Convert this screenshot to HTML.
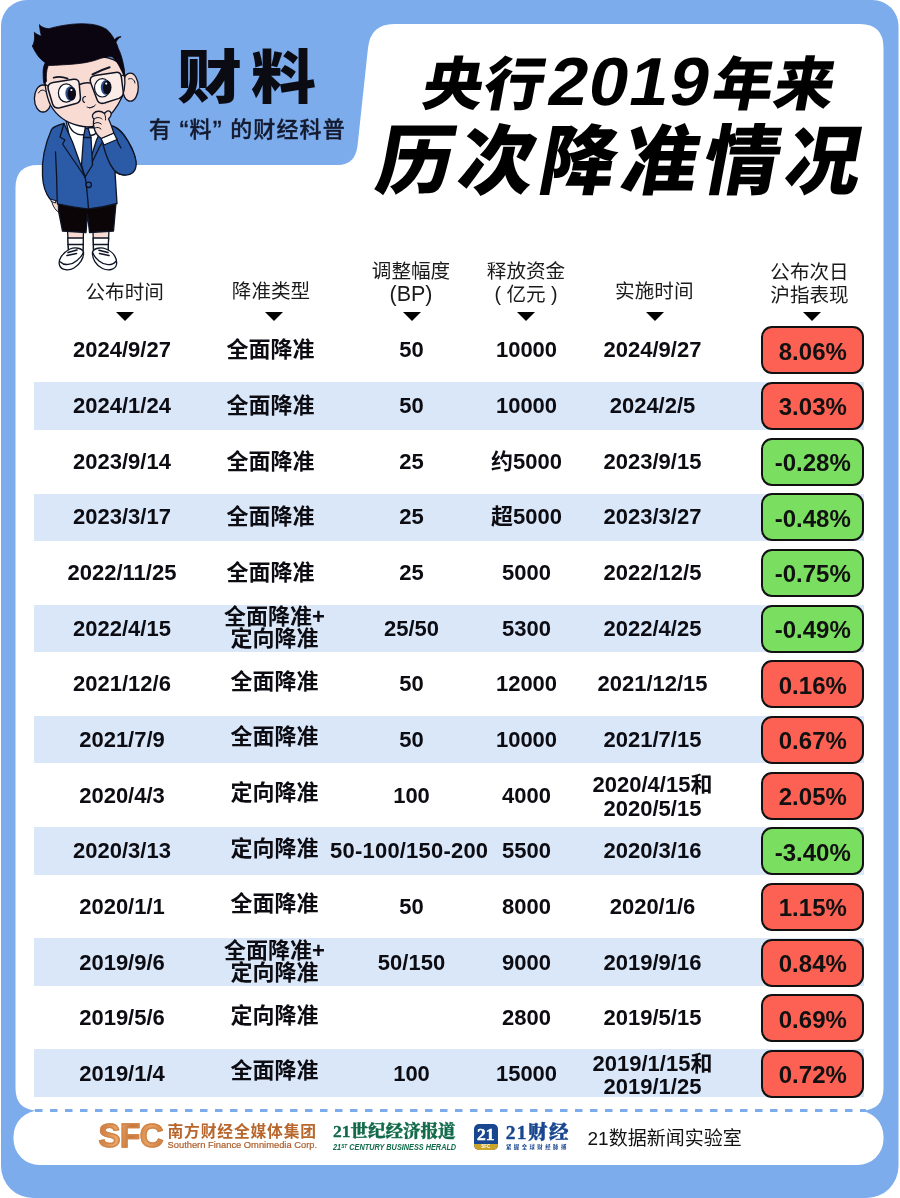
<!DOCTYPE html>
<html lang="zh-CN">
<head>
<meta charset="utf-8">
<title>央行2019年来历次降准情况</title>
<style>
html,body{margin:0;padding:0;}
body{width:900px;height:1198px;position:relative;overflow:hidden;background:#fff;font-family:"Liberation Sans","Noto Sans CJK SC",sans-serif;color:#111;}
#bg{position:absolute;left:0;top:0;width:900px;height:1198px;}
.abs{position:absolute;white-space:nowrap;}
/* logo */
#logo{left:176.5px;top:37.5px;font-size:58px;font-weight:900;line-height:80px;letter-spacing:8px;color:#0b0b14;transform:scaleX(1.12);transform-origin:0 50%;}
#tag{left:149px;top:115px;font-size:22px;font-weight:500;line-height:30px;color:#141a30;letter-spacing:1.15px;-webkit-text-stroke:0.35px #141a30;}
#tag .q{font-size:27px;line-height:0;position:relative;top:3px;}
/* title */
#t1{left:423.5px;top:42.5px;font-size:58px;font-weight:900;line-height:76px;color:#000;transform:skewX(-10.5deg) scaleX(1.04);transform-origin:0 50%;letter-spacing:0.8px;}
#t1 .n{font-family:"Liberation Sans",sans-serif;font-weight:bold;font-size:68px;letter-spacing:1px;margin-left:3px;margin-right:3px;}
#t2{left:378px;top:112px;font-size:76px;font-weight:900;line-height:100px;color:#000;transform:skewX(-10.5deg);transform-origin:0 50%;letter-spacing:5.6px;}
/* table header */
.h{position:absolute;width:200px;text-align:center;font-size:19.6px;line-height:23px;color:#1a1a1a;font-weight:400;white-space:nowrap;}
.tri{position:absolute;width:0;height:0;border-left:9.5px solid transparent;border-right:9.5px solid transparent;border-top:9.5px solid #000;top:311.5px;}
/* rows */
.row{position:absolute;left:0;width:900px;height:48px;}
.stripe{position:absolute;left:34px;width:830px;height:47.6px;background:#d9e7f9;}
.c{position:absolute;top:0;width:200px;height:48px;display:flex;align-items:center;justify-content:center;text-align:center;font-size:22px;font-weight:bold;line-height:23px;white-space:nowrap;color:#0c0c12;}
.c.two{line-height:22.5px;}
.pill{position:absolute;left:761.3px;top:0;width:103px;height:48px;box-sizing:border-box;border:2px solid #111;border-radius:11px;display:flex;align-items:center;justify-content:center;font-size:24px;font-weight:bold;color:#111;}
.pill span{position:relative;top:1.5px;}
.pill.r{background:#fd6154;}
.pill.g{background:#7ade60;}
/* footer */
.f{position:absolute;white-space:nowrap;}
</style>
</head>
<body>
<svg id="bg" width="900" height="1198" viewBox="0 0 900 1198">
<path d="M27 0 H872.5 A26 26 0 0 1 898.5 26 V1166 A32 32 0 0 1 866.5 1198 H33 A32 32 0 0 1 1 1166 V26 A26 26 0 0 1 27 0 Z" fill="#7cacec"/>
<!-- main white panel with title tab -->
<path d="M38 165 L338 165 Q355 165 357.5 146 L368 48 Q370.5 24 394 24 L860 24 Q883.5 24 883.5 48 L883.5 1088 Q883.5 1110.5 861 1110.5 L861 1111.5 L38 1111.5 L38 1110.5 Q15.5 1110.5 15.5 1088 L15.5 188 Q15.5 165 38 165 Z" fill="#fff"/>
<!-- footer panel -->
<rect x="13.5" y="1110.5" width="870" height="54.5" rx="26" ry="26" fill="#fff"/>
<line x1="35" y1="1110.5" x2="866" y2="1110.5" stroke="#7cacec" stroke-width="3" stroke-dasharray="7.5 7.5"/>
</svg>
<svg id="boy" class="abs" style="left:0;top:0" width="170" height="290" viewBox="0 0 170 290">
<g stroke="#0e1424" stroke-width="1.3" stroke-linejoin="round" stroke-linecap="round">
<!-- legs -->
<path d="M67.5 230 L68.5 250 L83 250 L83.5 230 Z" fill="#f8dcd4"/>
<path d="M93 230 L93.5 250 L108 250 L109 230 Z" fill="#f8dcd4"/>
<path d="M67.8 238 L83.3 238 L83 252 L68.5 252 Z" fill="#fff"/>
<path d="M93.2 238 L108.6 238 L108 252 L93.6 252 Z" fill="#fff"/>
<path d="M68 244.5 L83 244.5 M93.4 244.5 L108.3 244.5" fill="none"/>
<!-- shoes -->
<path d="M70 249 C62 253 58 260 59.5 265 C61 270.5 69 271 74 268 C80 264.5 84 258 83.5 252 C82 248 75 247 70 249 Z" fill="#fff"/>
<path d="M60.5 262 C64 266 72 265 77 260.5 C80 258 82.5 255 83.3 252.5" fill="none"/>
<path d="M68 252.5 L77 250 M67 255.5 L76.5 253.5" fill="none" stroke-width="1.6"/>
<path d="M106 249 C114 252 117.5 259 116.5 264.5 C115.5 270 108 271 102.5 268.5 C96 265.5 92 258.5 92.5 252 C94 248 101 247 106 249 Z" fill="#fff"/>
<path d="M115.8 261.5 C112 266 104.5 265.5 99 261 C96 258.5 93.5 255 92.7 252.5" fill="none"/>
<path d="M99 250.2 L108 252.5 M99.5 253.5 L109 255.5" fill="none" stroke-width="1.6"/>
<!-- shorts -->
<path d="M57 203 L116 203 L113.5 231 L89.5 232.5 L87.5 214 L86 232.5 L62.5 231 Z" fill="#0b0508"/>
<!-- left hand -->
<path d="M51 198 C52 205 55 210 58.5 212 L58 200 Z" fill="#f8dcd4" stroke-width="1"/>
<path d="M50.5 197 L56 199.5 L55.5 203 L51.5 201.5 Z" fill="#fff" stroke-width="1"/>
<!-- neck/shirt -->
<path d="M66 120 L100 122 L98 150 L85 178 L72 150 Z" fill="#fff"/>
<!-- jacket body -->
<path d="M64 123.5 C58 125 53 127 51.5 129.5 C46 142 41.5 160 42.5 176 C43 186 46 194 50 199 L57 201 L57.5 204 C68 206 78 208 88.5 209 C98 208 108 206 117 203.5 L115 172 C121 176 130 176 134 170 C138 163 134 150 128 141 C124 134 119 128 114 126.5 L104 124 L96.5 140 L85 177 L72.5 142 Z" fill="#2b5aa6"/>
<path d="M55.5 152 C56.5 170 57 188 57.2 201" fill="none"/>
<path d="M64 123.5 L60 137 L65 140 L62.5 144 L85 177" fill="none"/>
<path d="M85 177 L99.5 147 L103 141" fill="none"/>
<path d="M85 177 C86.5 182 87.5 196 88.5 209" fill="none"/>
<circle cx="88.7" cy="184.8" r="2.7" fill="#2b5aa6"/>
<!-- tie -->
<path d="M84.5 128 L89.5 128.5 L91 137.5 L92.5 165 L85 177 L81.5 165 L83.5 137.5 Z" fill="#2b5aa6"/>
<path d="M83.5 137.5 L91 137.5" fill="none"/>
<!-- collar -->
<path d="M68 122 C70 131 77 136 84 134.5 L85.5 127 Z" fill="#fff"/>
<path d="M88 127.5 L90 135 C94 136 97 133 98.5 128 Z" fill="#fff"/>
<!-- right arm sleeve -->
<path d="M114 126.5 C121 130 128 140 132.5 150 C137 160 137.5 168 133 172.5 C128 177 119 175.5 114 170 C109 164 105 152 103 144.5 L116.5 138.5 C117.5 142 119 145 121 148" fill="#2b5aa6"/>
<!-- cuff -->
<path d="M101 138.5 L113.8 133 L117 139.5 L104 145 Z" fill="#fff"/>
<!-- ears -->
<ellipse cx="43" cy="98.5" rx="8.6" ry="13.5" fill="#f8dcd4"/>
<ellipse cx="130.3" cy="87.2" rx="8" ry="14" fill="#f8dcd4"/>
<path d="M38.5 93 C40 89.5 44 89 46 92" fill="none" stroke-width="1"/>
<path d="M128.5 79 C131.5 77.5 134.5 79.5 135 83" fill="none" stroke-width="1"/>
<!-- face -->
<path d="M45 66 C43.5 80 46 96 50.5 105 C56 115 66 122.5 78 125.5 C86 127.5 95 127 101 123 C110 117 118 106 122.5 96 C125.5 88 125.5 78 123.5 68 C118 58 100 55 85 56 C68 57 52 60 45 66 Z" fill="#f8dcd4"/>
<!-- hair -->
<path d="M39.5 25.1 C40 30 40.5 33.5 41.7 36.2 C39 35.5 36 34 34.4 32.3 C34.6 37 35 42 32.3 46 C34.5 50.5 36.5 54 38.8 56.9 C41 59.5 43 61 45.3 62.7 C43.5 66 43 69.5 43.1 72.8 C43.1 76.5 43.3 80 43.8 83.5 L46.5 81.5 C46 76 46.3 70.5 48.2 65.6 C53 65.4 58 65.2 63.3 64.8 C71 64.5 78 63.8 85 62.7 C91 61.7 96 60.2 100.9 58.3 C105 57.2 109 56.6 112.4 56.9 C116 60.5 119 65 121.1 69.9 C122.3 72 123.3 74 124 76.5 C124.6 72.5 124.3 68 123.3 64.1 C122.3 58.5 120.5 53 118.2 48.2 C117.6 46 116.8 44 116 42.4 C117 39.8 118.8 37.8 121.1 36.7 C118.5 36.5 116 37.8 114.5 39.8 C112.5 35.8 110 32.3 106.7 29.4 C102.5 26.8 97.5 25.2 92.2 24.4 C85 23.5 77.5 23.6 70.6 24.4 C63 25.3 55.5 26.7 48.9 28.7 C45.5 28.7 42 27.3 39.5 25.1 Z" fill="#0a0510" stroke="#0a0510" stroke-width="0.8"/>
<!-- glasses -->
<path d="M53 82.6 L73.5 79.3 Q78.6 78.6 79.2 83.5 L80.4 97 Q80.8 102 76 103.6 L60 107.8 Q54.5 109 52.6 104 L48.3 89.5 Q46.8 83.8 53 82.6 Z" fill="#fbece7" stroke-width="1.5"/>
<path d="M95 75.6 L115.5 72.4 Q120.6 71.8 121.3 76.6 L123.2 91.5 Q123.8 96.6 119 98.4 L104.5 103 Q99 104.6 97 99.5 L90.6 82.5 Q88.8 76.8 95 75.6 Z" fill="#fbece7" stroke-width="1.5"/>
<path d="M79.5 84.5 C83 83 86.5 82.5 90 83" fill="none" stroke-width="1.5"/>
<path d="M48 86 L44.5 84" fill="none" stroke-width="1.3"/>
<path d="M121 76 L125 74.5" fill="none" stroke-width="1.3"/>
<!-- eyes -->
<ellipse cx="66.2" cy="93" rx="7.8" ry="9.2" fill="#fff" stroke-width="1.2"/>
<ellipse cx="70.6" cy="93.6" rx="5.2" ry="7.4" fill="#2c4a86" stroke="none"/>
<ellipse cx="71.8" cy="93.8" rx="4.2" ry="6.8" fill="#0b0b1a" stroke="none"/>
<circle cx="71.4" cy="90" r="1.1" fill="#fff" stroke="none"/>
<ellipse cx="102.3" cy="87.8" rx="7.8" ry="9.2" fill="#fff" stroke-width="1.2"/>
<ellipse cx="106" cy="87.4" rx="5.2" ry="7.4" fill="#2c4a86" stroke="none"/>
<ellipse cx="107.2" cy="87.4" rx="4.2" ry="6.8" fill="#0b0b1a" stroke="none"/>
<circle cx="106.2" cy="83.6" r="1.1" fill="#fff" stroke="none"/>
<!-- brows -->
<path d="M53.5 77.8 C58 76.2 63 76.8 67.7 78.6" fill="none" stroke-width="1.6"/>
<path d="M92.5 74.3 C98 71.5 104 69 109.6 67.2" fill="none" stroke-width="2"/>
<!-- nose, mouth -->
<path d="M85.5 96.5 C82.5 96.5 81.5 101 84.5 102.5" fill="none" stroke-width="1.1"/>
<path d="M87 107 C90 108.6 93.5 107.6 95.5 104.8 M89.5 108 L94 106.3" fill="none" stroke-width="0.9"/>
<!-- hand -->
<path d="M93.5 113.5 C96 110.5 101 110.5 104.5 113.5 C106 111.5 108 109.5 110.5 112 C112 114 110.5 117 108.5 119 C111 124 112.5 129 113.8 133 L101 138.5 C98 136 95.5 133 94.5 129.5 C93.5 126 93 122 94 119 C92 117.5 92 115 93.5 113.5 Z" fill="#f8dcd4"/>
<path d="M94 119 C96.5 117 100 117 102 119 M94.3 123.5 C96.5 122 99.5 122.3 101.3 124 M95 128 C97 127 99.5 127.3 101 129 M104.5 113.5 C105.5 116 105.8 118 105.5 120" fill="none" stroke-width="1"/>
</g>
</svg>
<div id="logo" class="abs">财料</div>
<div id="tag" class="abs">有 <span class="q">“</span>料<span class="q">”</span> 的财经科普</div>
<div id="t1" class="abs">央行<span class="n">2019</span>年来</div>
<div id="t2" class="abs">历次降准情况</div>

<div class="h" style="left:24.7px;top:280.5px;">公布时间</div>
<div class="h" style="left:171px;top:280px;">降准类型</div>
<div class="h" style="left:311px;top:259.5px;">调整幅度<br><span style="font-size:21.5px">(BP)</span></div>
<div class="h" style="left:426px;top:259.5px;">释放资金<br>( 亿元 )</div>
<div class="h" style="left:554.3px;top:279.5px;">实施时间</div>
<div class="h" style="left:709.5px;top:260.5px;">公布次日<br>沪指表现</div>
<div class="tri" style="left:115.8px"></div>
<div class="tri" style="left:264.5px"></div>
<div class="tri" style="left:403px"></div>
<div class="tri" style="left:516.7px"></div>
<div class="tri" style="left:645.5px"></div>
<div class="tri" style="left:802.5px"></div>
<div class="row" style="top:326.30px"><div class="c c1" style="left:22.0px;margin-top:-0.5px;"><span>2024/9/27</span></div><div class="c c2" style="left:170.5px;margin-top:-0.5px;"><span>全面降准</span></div><div class="c c3" style="left:311.5px;margin-top:-0.5px;"><span>50</span></div><div class="c c4" style="left:426.5px;margin-top:-0.5px;"><span>10000</span></div><div class="c c5" style="left:552.5px;margin-top:-0.5px;"><span>2024/9/27</span></div><div class="pill r"><span>8.06%</span></div></div>
<div class="row" style="top:381.96px"><div class="stripe" style="top:0.51px"></div><div class="c c1" style="left:22.0px;margin-top:-0.5px;"><span>2024/1/24</span></div><div class="c c2" style="left:170.5px;margin-top:-0.5px;"><span>全面降准</span></div><div class="c c3" style="left:311.5px;margin-top:-0.5px;"><span>50</span></div><div class="c c4" style="left:426.5px;margin-top:-0.5px;"><span>10000</span></div><div class="c c5" style="left:552.5px;margin-top:-0.5px;"><span>2024/2/5</span></div><div class="pill r"><span>3.03%</span></div></div>
<div class="row" style="top:437.62px"><div class="c c1" style="left:22.0px;margin-top:-0.5px;"><span>2023/9/14</span></div><div class="c c2" style="left:170.5px;margin-top:-0.5px;"><span>全面降准</span></div><div class="c c3" style="left:311.5px;margin-top:-0.5px;"><span>25</span></div><div class="c c4" style="left:426.5px;margin-top:-0.5px;"><span>约5000</span></div><div class="c c5" style="left:552.5px;margin-top:-0.5px;"><span>2023/9/15</span></div><div class="pill g"><span>-0.28%</span></div></div>
<div class="row" style="top:493.28px"><div class="stripe" style="top:0.32px"></div><div class="c c1" style="left:22.0px;margin-top:-0.5px;"><span>2023/3/17</span></div><div class="c c2" style="left:170.5px;margin-top:-0.5px;"><span>全面降准</span></div><div class="c c3" style="left:311.5px;margin-top:-0.5px;"><span>25</span></div><div class="c c4" style="left:426.5px;margin-top:-0.5px;"><span>超5000</span></div><div class="c c5" style="left:552.5px;margin-top:-0.5px;"><span>2023/3/27</span></div><div class="pill g"><span>-0.48%</span></div></div>
<div class="row" style="top:548.94px"><div class="c c1" style="left:22.0px;margin-top:-0.5px;"><span>2022/11/25</span></div><div class="c c2" style="left:170.5px;margin-top:-0.5px;"><span>全面降准</span></div><div class="c c3" style="left:311.5px;margin-top:-0.5px;"><span>25</span></div><div class="c c4" style="left:426.5px;margin-top:-0.5px;"><span>5000</span></div><div class="c c5" style="left:552.5px;margin-top:-0.5px;"><span>2022/12/5</span></div><div class="pill g"><span>-0.75%</span></div></div>
<div class="row" style="top:604.60px"><div class="stripe" style="top:0.14px"></div><div class="c c1" style="left:22.0px;margin-top:-0.5px;"><span>2022/4/15</span></div><div class="c two c2" style="left:174.5px;margin-top:-0.5px;"><span>全面降准+<br>定向降准</span></div><div class="c c3" style="left:311.5px;margin-top:-0.5px;"><span>25/50</span></div><div class="c c4" style="left:426.5px;margin-top:-0.5px;"><span>5300</span></div><div class="c c5" style="left:552.5px;margin-top:-0.5px;"><span>2022/4/25</span></div><div class="pill g"><span>-0.49%</span></div></div>
<div class="row" style="top:660.26px"><div class="c c1" style="left:22.0px;margin-top:-0.5px;"><span>2021/12/6</span></div><div class="c c2" style="left:174.5px;margin-top:-3px;"><span>全面降准</span></div><div class="c c3" style="left:311.5px;margin-top:-0.5px;"><span>50</span></div><div class="c c4" style="left:426.5px;margin-top:-0.5px;"><span>12000</span></div><div class="c c5" style="left:552.5px;margin-top:-0.5px;"><span>2021/12/15</span></div><div class="pill r"><span>0.16%</span></div></div>
<div class="row" style="top:715.92px"><div class="stripe" style="top:-0.04px"></div><div class="c c1" style="left:22.0px;margin-top:-0.5px;"><span>2021/7/9</span></div><div class="c c2" style="left:174.5px;margin-top:-3px;"><span>全面降准</span></div><div class="c c3" style="left:311.5px;margin-top:-0.5px;"><span>50</span></div><div class="c c4" style="left:426.5px;margin-top:-0.5px;"><span>10000</span></div><div class="c c5" style="left:552.5px;margin-top:-0.5px;"><span>2021/7/15</span></div><div class="pill r"><span>0.67%</span></div></div>
<div class="row" style="top:771.58px"><div class="c c1" style="left:22.0px;margin-top:-0.5px;"><span>2020/4/3</span></div><div class="c c2" style="left:174.5px;margin-top:-3px;"><span>定向降准</span></div><div class="c c3" style="left:311.5px;margin-top:-0.5px;"><span>100</span></div><div class="c c4" style="left:426.5px;margin-top:-0.5px;"><span>4000</span></div><div class="c two c5" style="left:552.5px;margin-top:1.2px;line-height:23.5px;"><span>2020/4/15和<br>2020/5/15</span></div><div class="pill r"><span>2.05%</span></div></div>
<div class="row" style="top:827.24px"><div class="stripe" style="top:-0.23px"></div><div class="c c1" style="left:22.0px;margin-top:-0.5px;"><span>2020/3/13</span></div><div class="c c2" style="left:174.5px;margin-top:-3px;"><span>定向降准</span></div><div class="c c3" style="left:309.2px;letter-spacing:0.2px;margin-top:-0.5px;"><span>50-100/150-200</span></div><div class="c c4" style="left:426.5px;margin-top:-0.5px;"><span>5500</span></div><div class="c c5" style="left:552.5px;margin-top:-0.5px;"><span>2020/3/16</span></div><div class="pill g"><span>-3.40%</span></div></div>
<div class="row" style="top:882.90px"><div class="c c1" style="left:22.0px;margin-top:-0.5px;"><span>2020/1/1</span></div><div class="c c2" style="left:174.5px;margin-top:-3px;"><span>全面降准</span></div><div class="c c3" style="left:311.5px;margin-top:-0.5px;"><span>50</span></div><div class="c c4" style="left:426.5px;margin-top:-0.5px;"><span>8000</span></div><div class="c c5" style="left:552.5px;margin-top:-0.5px;"><span>2020/1/6</span></div><div class="pill r"><span>1.15%</span></div></div>
<div class="row" style="top:938.56px"><div class="stripe" style="top:-0.41px"></div><div class="c c1" style="left:22.0px;margin-top:-0.5px;"><span>2019/9/6</span></div><div class="c two c2" style="left:174.5px;margin-top:-0.5px;"><span>全面降准+<br>定向降准</span></div><div class="c c3" style="left:311.5px;margin-top:-0.5px;"><span>50/150</span></div><div class="c c4" style="left:426.5px;margin-top:-0.5px;"><span>9000</span></div><div class="c c5" style="left:552.5px;margin-top:-0.5px;"><span>2019/9/16</span></div><div class="pill r"><span>0.84%</span></div></div>
<div class="row" style="top:994.22px"><div class="c c1" style="left:22.0px;margin-top:-0.5px;"><span>2019/5/6</span></div><div class="c c2" style="left:174.5px;margin-top:-3px;"><span>定向降准</span></div><div class="c c4" style="left:426.5px;margin-top:-0.5px;"><span>2800</span></div><div class="c c5" style="left:552.5px;margin-top:-0.5px;"><span>2019/5/15</span></div><div class="pill r"><span>0.69%</span></div></div>
<div class="row" style="top:1049.88px"><div class="stripe" style="top:-0.60px"></div><div class="c c1" style="left:22.0px;margin-top:-0.5px;"><span>2019/1/4</span></div><div class="c c2" style="left:174.5px;margin-top:-3px;"><span>全面降准</span></div><div class="c c3" style="left:311.5px;margin-top:-0.5px;"><span>100</span></div><div class="c c4" style="left:426.5px;margin-top:-0.5px;"><span>15000</span></div><div class="c two c5" style="left:552.5px;margin-top:1.2px;line-height:23.5px;"><span>2019/1/15和<br>2019/1/25</span></div><div class="pill r"><span>0.72%</span></div></div><div class="f" id="sfc" style="left:98.5px;top:1117.5px;font-size:33px;line-height:36px;font-weight:bold;letter-spacing:-0.5px;color:#d08448;-webkit-text-stroke:1.3px #d08448;background:linear-gradient(100deg,#c8743a 0%,#e9a668 30%,#c8743a 50%,#e7a262 75%,#c97a3e 100%);-webkit-background-clip:text;background-clip:text;-webkit-text-fill-color:transparent;">SFC</div>
<div class="f" style="left:167.5px;top:1119.5px;font-size:15.8px;line-height:24px;font-weight:700;letter-spacing:0.8px;color:#b8662c;">南方财经全媒体集团</div>
<div class="f" style="left:167.5px;top:1139px;font-size:9.35px;line-height:12px;color:#ad5d2a;-webkit-text-stroke:0.2px #ad5d2a;">Southern Finance Omnimedia Corp.</div>
<div class="f" style="left:333px;top:1118px;font-size:17.5px;line-height:26px;font-weight:900;color:#116a4a;-webkit-text-stroke:0.3px #116a4a;font-family:'Liberation Serif','Noto Serif CJK SC',serif;">21世纪经济报道</div>
<div class="f" style="left:333px;top:1139.5px;font-size:9.2px;line-height:12px;font-weight:bold;font-style:italic;color:#116a4a;transform:scaleX(0.795);transform-origin:0 50%;">21<span style="font-size:6px;vertical-align:2px">ST</span> CENTURY BUSINESS HERALD</div>
<div class="f" style="left:473.5px;top:1123.7px;width:24.5px;height:26px;border-radius:5px;background:#18468f;overflow:hidden;"><div style="position:absolute;left:0;bottom:0;width:26px;height:6px;background:#c9a32a;"></div><div style="position:absolute;left:0;top:0.5px;width:24.5px;text-align:center;font-size:17.5px;line-height:21px;font-weight:bold;color:#fff;-webkit-text-stroke:0.5px #fff;font-family:'Liberation Serif',serif;">21</div><div style="position:absolute;left:0;bottom:0.5px;width:24.5px;text-align:center;font-size:4.5px;line-height:5px;font-weight:bold;color:#fff;">SFC</div></div>
<div class="f" style="left:505.7px;top:1119px;font-size:19.5px;line-height:28px;font-weight:900;color:#18468f;-webkit-text-stroke:0.4px #18468f;letter-spacing:1.4px;font-family:'Liberation Serif','Noto Serif CJK SC',serif;">21财经</div>
<div class="f" style="left:506px;top:1142.8px;font-size:5.4px;line-height:8px;font-weight:bold;color:#18468f;letter-spacing:2.45px;">紧握全球财经脉搏</div>
<div class="f" style="left:587.5px;top:1124.5px;font-size:19px;line-height:28px;color:#111;">21数据新闻实验室</div>
</body>
</html>
